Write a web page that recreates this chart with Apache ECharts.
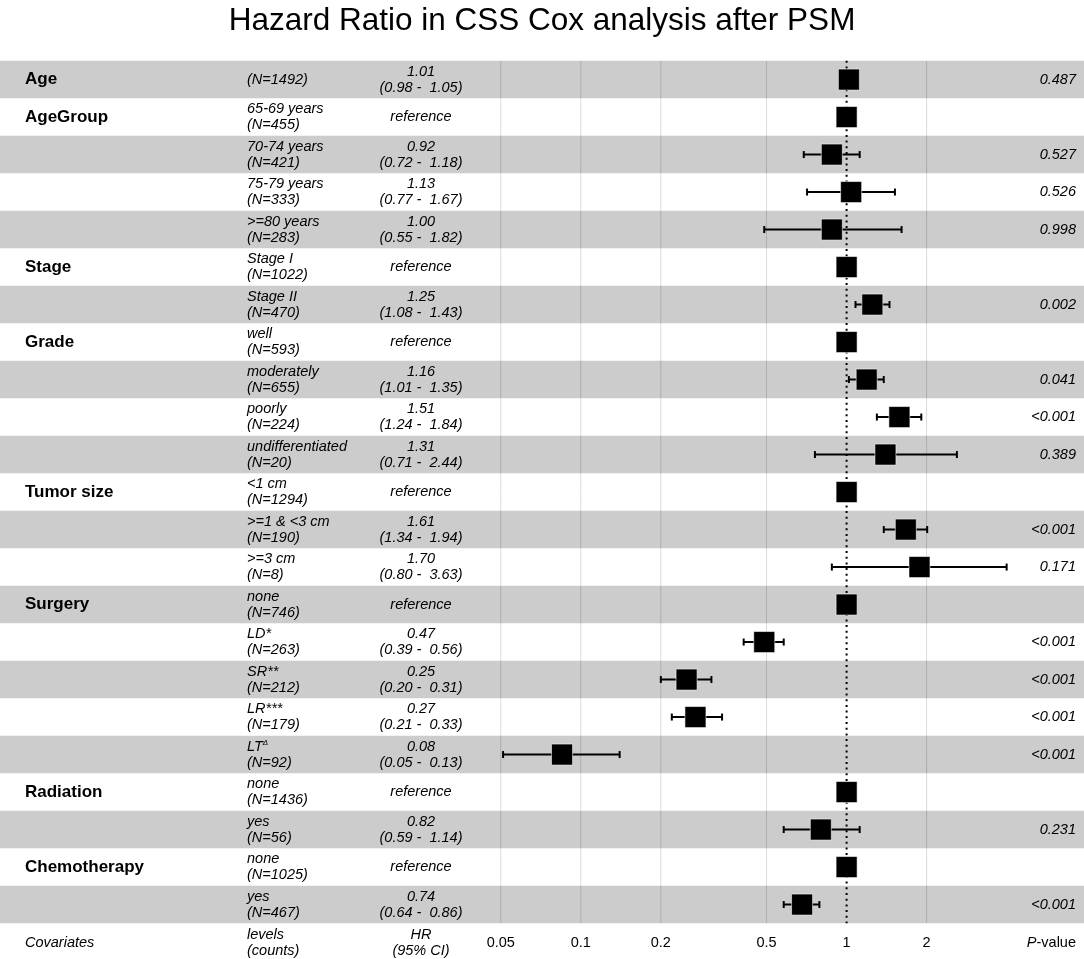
<!DOCTYPE html>
<html><head><meta charset="utf-8">
<script src="https://cdn.jsdelivr.net/npm/echarts@6/dist/echarts.min.js"></script>
<style>html,body{margin:0;padding:0;background:#fff}#chart{width:1084px;height:959px}</style>
</head><body><div id="chart"></div>
<script>
// ---------------- data ----------------
const chartTitle = 'Hazard Ratio in CSS Cox analysis after PSM';
const variables = ['Age','AgeGroup','','','','Stage','','Grade','','','','Tumor size','','','Surgery','','','','','Radiation','','Chemotherapy',''];
const levels = ['','65-69 years','70-74 years','75-79 years','>=80 years','Stage I','Stage II','well','moderately','poorly','undifferentiated','<1 cm','>=1 & <3 cm','>=3 cm','none','LD*','SR**','LR***','LT^\u0394','none','yes','none','yes'];
const counts = [1492,455,421,333,283,1022,470,593,655,224,20,1294,190,8,746,263,212,179,92,1436,56,1025,467];
const hrText = ['1.01','reference','0.92','1.13','1.00','reference','1.25','reference','1.16','1.51','1.31','reference','1.61','1.70','reference','0.47','0.25','0.27','0.08','reference','0.82','reference','0.74'];
const ciText = ['(0.98 -  1.05)','','(0.72 -  1.18)','(0.77 -  1.67)','(0.55 -  1.82)','','(1.08 -  1.43)','','(1.01 -  1.35)','(1.24 -  1.84)','(0.71 -  2.44)','','(1.34 -  1.94)','(0.80 -  3.63)','','(0.39 -  0.56)','(0.20 -  0.31)','(0.21 -  0.33)','(0.05 -  0.13)','','(0.59 -  1.14)','','(0.64 -  0.86)'];
const pText = ['0.487','','0.527','0.526','0.998','','0.002','','0.041','<0.001','0.389','','<0.001','0.171','','<0.001','<0.001','<0.001','<0.001','','0.231','','<0.001'];
// plotted marks (as drawn in the picture)
const estimate = [1.02,1.00,0.88,1.04,0.88,1.00,1.25,1.00,1.19,1.58,1.40,1.00,1.67,1.88,1.00,0.49,0.25,0.27,0.085,1.00,0.80,1.00,0.68];
const lower    = [0.98,null,0.69,0.71,0.49,null,1.08,null,1.02,1.30,0.76,null,1.38,0.88,null,0.41,0.20,0.22,0.051,null,0.58,null,0.58];
const upper    = [1.05,null,1.12,1.52,1.61,null,1.45,null,1.38,1.91,2.60,null,2.01,4.00,null,0.58,0.31,0.34,0.14,null,1.12,null,0.79];
const axisTicks = [0.05, 0.1, 0.2, 0.5, 1, 2];
const refValue = 1;
const footerCovariates = 'Covariates';
const footerLevels = 'levels\n(counts)';
const footerHR = 'HR\n(95% CI)';
const footerP = ['P', '-value'];

// ---------------- layout ----------------
const W = 1084, H = 959;
const PLOT_TOP = 60.8, PLOT_BOTTOM = 923.3;
const X_AT_ONE = 846.6, PX_PER_DECADE = 265.8;
const xMin = Math.pow(10, -X_AT_ONE / PX_PER_DECADE);
const xMax = Math.pow(10, (W - X_AT_ONE) / PX_PER_DECADE);
const nRows = levels.length;
const FONT = '"Liberation Sans", Arial, Helvetica, sans-serif';
const COL_VAR = 25, COL_LEVEL = 247, COL_HR = 421, COL_P = 1076;
const FOOTER_OFFSET = 19.5;
const TXT = 14.5;

const rowIdx = levels.map((_, i) => i);

function rowY(api, r) { return api.coord([1, r])[1]; }

const chart = echarts.init(document.getElementById('chart'), null, {renderer: 'canvas'});
chart.setOption({
  animation: false,
  backgroundColor: '#ffffff',
  title: {
    text: chartTitle, left: 'center', top: 0,
    textStyle: {fontSize: 31.5, fontWeight: 'normal', color: '#000', fontFamily: FONT}
  },
  grid: {left: 0, right: 0, top: PLOT_TOP, bottom: H - PLOT_BOTTOM, containLabel: false},
  xAxis: {type: 'log', logBase: 10, min: xMin, max: xMax, show: false},
  yAxis: {type: 'value', inverse: true, min: -0.5, max: nRows - 0.5, show: false},
  series: [
    { // zebra bands
      type: 'custom', z: 1, silent: true,
      data: rowIdx.filter(i => i % 2 === 0).map(i => [1, i]),
      encode: {x: 0, y: 1},
      renderItem: (params, api) => {
        const r = api.value(1);
        const y0 = rowY(api, r - 0.5), y1 = rowY(api, r + 0.5);
        return {type: 'rect', shape: {x: 0, y: y0, width: api.getWidth(), height: y1 - y0},
                style: {fill: '#cccccc'}};
      }
    },
    { // grid lines
      type: 'custom', z: 2, silent: true,
      data: axisTicks.filter(t => t !== refValue).map(t => [t, 0]),
      encode: {x: 0, y: 1},
      renderItem: (params, api) => {
        const x = api.coord([api.value(0), 0])[0];
        return {type: 'line', shape: {x1: x, y1: rowY(api, -0.5), x2: x, y2: rowY(api, nRows - 0.5)},
                style: {stroke: 'rgba(0,0,0,0.15)', lineWidth: 1}};
      }
    },
    { // reference dotted line
      type: 'custom', z: 3, silent: true,
      data: [[refValue, 0]],
      encode: {x: 0, y: 1},
      renderItem: (params, api) => {
        const x = api.coord([api.value(0), 0])[0];
        return {type: 'line', shape: {x1: x, y1: rowY(api, -0.5), x2: x, y2: rowY(api, nRows - 0.5)},
                style: {stroke: '#000', lineWidth: 2, lineDash: [2, 3.7]}};
      }
    },
    { // whiskers
      type: 'custom', z: 4, silent: true,
      data: rowIdx.filter(i => lower[i] != null).map(i => [lower[i], upper[i], i]),
      encode: {x: [0, 1], y: 2},
      renderItem: (params, api) => {
        const r = api.value(2);
        const p0 = api.coord([api.value(0), r]), p1 = api.coord([api.value(1), r]);
        const y = p0[1], c = 3.5;
        const st = {stroke: '#000', lineWidth: 2};
        return {type: 'group', children: [
          {type: 'line', shape: {x1: p0[0], y1: y, x2: p1[0], y2: y}, style: st},
          {type: 'line', shape: {x1: p0[0], y1: y - c, x2: p0[0], y2: y + c}, style: st},
          {type: 'line', shape: {x1: p1[0], y1: y - c, x2: p1[0], y2: y + c}, style: st}
        ]};
      }
    },
    { // boxes
      type: 'custom', z: 5, silent: true,
      data: rowIdx.map(i => [estimate[i], i]),
      encode: {x: 0, y: 1},
      renderItem: (params, api) => {
        const p = api.coord([api.value(0), api.value(1)]);
        const s = 21;
        return {type: 'rect', shape: {x: p[0] - s / 2, y: p[1] - s / 2, width: s, height: s},
                style: {fill: '#000', stroke: 'rgba(255,255,255,0.55)', lineWidth: 1}};
      }
    },
    { // table text
      type: 'custom', z: 6, silent: true,
      data: rowIdx.map(i => [1, i]),
      encode: {x: 0, y: 1},
      renderItem: (params, api) => {
        const i = api.value(1);
        const y = rowY(api, i);
        const kids = [];
        if (variables[i]) kids.push({type: 'text', x: COL_VAR, y: y, style: {
          text: variables[i], fontFamily: FONT, fontSize: 17, fontWeight: 'bold', fill: '#000',
          align: 'left', verticalAlign: 'middle'}});
        let lv = levels[i];
        let lvRich;
        if (lv.indexOf('^') >= 0) {
          const parts = lv.split('^');
          lvRich = '{n|' + parts[0] + '}{s|' + parts[1] + '}\n{n|(N=' + counts[i] + ')}';
        } else if (lv) {
          lvRich = '{n|' + lv + '}\n{n|(N=' + counts[i] + ')}';
        } else {
          lvRich = '{n|(N=' + counts[i] + ')}';
        }
        kids.push({type: 'text', x: COL_LEVEL, y: y, style: {
          text: lvRich, align: 'left', verticalAlign: 'middle', fill: '#000',
          fontFamily: FONT, fontSize: TXT, fontStyle: 'italic',
          rich: {
            n: {fontFamily: FONT, fontSize: TXT, fontStyle: 'italic', lineHeight: 16, fill: '#000'},
            s: {fontFamily: FONT, fontSize: 8, fontStyle: 'italic', lineHeight: 16, verticalAlign: 'top', fill: '#000'}
          }}});
        const hr = ciText[i] ? hrText[i] + '\n' + ciText[i] : hrText[i];
        kids.push({type: 'text', x: COL_HR, y: y, style: {
          text: hr, align: 'center', verticalAlign: 'middle', fill: '#000',
          fontFamily: FONT, fontSize: TXT, fontStyle: 'italic', lineHeight: 16}});
        if (pText[i]) kids.push({type: 'text', x: COL_P, y: y, style: {
          text: pText[i], align: 'right', verticalAlign: 'middle', fill: '#000',
          fontFamily: FONT, fontSize: TXT, fontStyle: 'italic'}});
        return {type: 'group', children: kids};
      }
    },
    { // footer: axis tick labels
      type: 'custom', z: 6, silent: true, clip: false,
      data: axisTicks.map(t => [t, nRows - 0.5]),
      encode: {x: 0, y: 1},
      renderItem: (params, api) => {
        const p = api.coord([api.value(0), api.value(1)]);
        return {type: 'text', x: p[0], y: p[1] + FOOTER_OFFSET, style: {
          text: String(api.value(0)), align: 'center', verticalAlign: 'middle', fill: '#000',
          fontFamily: FONT, fontSize: TXT}};
      }
    },
    { // footer: column headers
      type: 'custom', z: 6, silent: true, clip: false,
      data: [[1, nRows - 0.5]],
      encode: {x: 0, y: 1},
      renderItem: (params, api) => {
        const y = rowY(api, nRows - 0.5) + FOOTER_OFFSET;
        const base = {fontFamily: FONT, fontSize: TXT, fontStyle: 'italic', fill: '#000', verticalAlign: 'middle', lineHeight: 16};
        return {type: 'group', children: [
          {type: 'text', x: COL_VAR, y: y, style: Object.assign({}, base, {text: footerCovariates, align: 'left'})},
          {type: 'text', x: COL_LEVEL, y: y, style: Object.assign({}, base, {text: footerLevels, align: 'left'})},
          {type: 'text', x: COL_HR, y: y, style: Object.assign({}, base, {text: footerHR, align: 'center'})},
          {type: 'text', x: COL_P, y: y, style: {
            text: '{i|' + footerP[0] + '}{r|' + footerP[1] + '}', align: 'right', verticalAlign: 'middle',
            fontFamily: FONT, fontSize: TXT, fill: '#000',
            rich: {i: {fontFamily: FONT, fontSize: TXT, fontStyle: 'italic', fill: '#000'},
                   r: {fontFamily: FONT, fontSize: TXT, fill: '#000'}}}}
        ]};
      }
    }
  ]
});
</script></body></html>
